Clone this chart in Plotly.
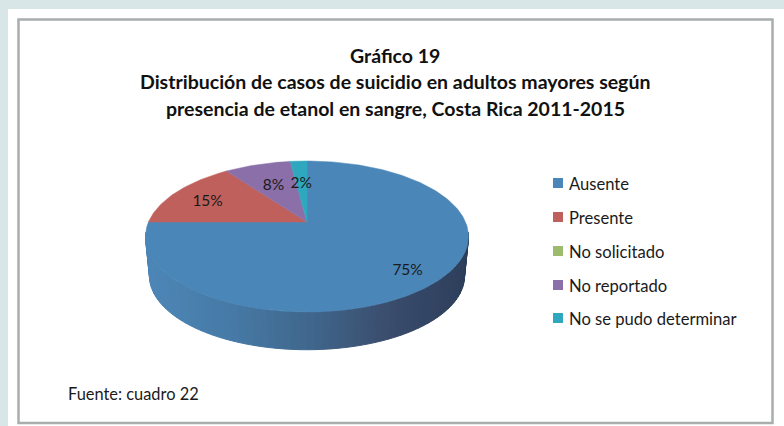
import math
import plotly.graph_objects as go

categories = ["Ausente", "Presente", "No solicitado", "No reportado", "No se pudo determinar"]
values = [75, 15, 0, 8, 2]
colors = ["#4a86b8", "#c0605c", "#9dbb6d", "#8b6fa8", "#2fa8bf"]
label_radius = [0.8, 0.75, 0.7, 0.64, 0.64]
title_lines = ["Gráfico 19",
               "Distribución de casos de suicidio en adultos mayores según",
               "presencia de etanol en sangre, Costa Rica 2011-2015"]
source_note = "Fuente: cuadro 22"

W, H = 784, 426
X0, Y0 = 307, 222      # pie centre in the picture
QX, QY, K = 158.5, 72.7, 0.192   # perspective of the disc
DEPTH, SHRINK = 40.0, 0.975      # extrusion of the rim
LABEL_DY = 3


def project(t, r=1.0, base=False):
    u, v = r * math.sin(t), r * math.cos(t)
    w = 1 / (1 + K * v)
    x, y = QX * u * w, QY * v * w
    if base:
        return X0 + x * SHRINK, Y0 - y * SHRINK + DEPTH
    return X0 + x, Y0 - y


fig = go.Figure()

# rim: dark gradient along the front edge (left to right)
stops = [(0.0, (76, 134, 183)), (0.25, (70, 122, 166)), (0.5, (64, 102, 140)),
         (0.75, (58, 76, 108)), (1.0, (44, 62, 90))]


def rim_colour(f):
    for (a, ca), (b, cb) in zip(stops, stops[1:]):
        if f <= b:
            s = (f - a) / (b - a)
            c = [round(p + (q - p) * s) for p, q in zip(ca, cb)]
            return "rgb(%d,%d,%d)" % tuple(c)
    return "rgb(%d,%d,%d)" % stops[-1][1]


N = 70
t_left, t_right = math.radians(262), math.radians(98)
for i in range(N):
    a = t_left + (t_right - t_left) * i / N
    b = t_left + (t_right - t_left) * (i + 1) / N
    p1, p2 = project(a), project(b)
    p3, p4 = project(b, base=True), project(a, base=True)
    col = rim_colour((p1[0] - 146) / 323)
    fig.add_trace(go.Scatter(
        x=[p1[0], p2[0], p3[0], p4[0], p1[0]], y=[p1[1], p2[1], p3[1], p4[1], p1[1]],
        mode="lines", fill="toself", fillcolor=col, line=dict(color=col, width=1),
        hoverinfo="skip", showlegend=False))

# top face: one wedge per category, clockwise from 12 o'clock
total = sum(values)
start = 0.0
label_x, label_y, label_text = [], [], []
for name, val, col, lr in zip(categories, values, colors, label_radius):
    sweep = 2 * math.pi * val / total
    if val > 0:
        n = max(2, int(val * 3))
        pts = [project(start + sweep * j / n) for j in range(n + 1)]
        xs = [X0] + [p[0] for p in pts] + [X0]
        ys = [Y0] + [p[1] for p in pts] + [Y0]
        fig.add_trace(go.Scatter(x=xs, y=ys, mode="lines", fill="toself", fillcolor=col,
                                 line=dict(color=col, width=0.5), name=name,
                                 hoverinfo="name", showlegend=False))
        lx, ly = project(start + sweep / 2, lr)
        label_x.append(lx)
        label_y.append(ly + LABEL_DY)
        label_text.append(f"{val}%")
    start += sweep

fig.add_trace(go.Scatter(x=label_x, y=label_y, text=label_text, mode="text",
                         textfont=dict(family="Lato", size=15.5, color="#1a1a1a"),
                         hoverinfo="skip", showlegend=False))

# key
key_y = [183, 217, 251, 285, 318]
fig.add_trace(go.Scatter(x=[558] * 5, y=key_y, mode="markers",
                         marker=dict(symbol="square", size=10, color=colors),
                         hoverinfo="skip", showlegend=False))
annotations = []
for name, y in zip(categories, key_y):
    annotations.append(dict(x=566.5, y=y + 1, text=name, xanchor="left", yanchor="middle", showarrow=False,
                            font=dict(family="Lato", size=16.6, color="#1a1a1a")))
for line, y in zip(title_lines, [55, 81, 108]):
    annotations.append(dict(x=395, y=y, text=f"<b>{line}</b>", xanchor="center", yanchor="middle", showarrow=False,
                            font=dict(family="Lato", size=19.5, color="#111111")))
annotations.append(dict(x=65.5, y=393, text=source_note, xanchor="left", yanchor="middle", showarrow=False,
                        font=dict(family="Lato", size=16.4, color="#1a1a1a")))

fig.update_layout(
    width=W, height=H, margin=dict(l=0, r=0, t=0, b=0), autosize=False,
    paper_bgcolor="#d9e6e8", plot_bgcolor="rgba(0,0,0,0)", showlegend=False,
    xaxis=dict(range=[0, W], visible=False, fixedrange=True),
    yaxis=dict(range=[H, 0], visible=False, fixedrange=True),
    annotations=annotations,
    shapes=[
        dict(type="rect", x0=8, y0=9, x1=W, y1=H, layer="below", fillcolor="white", line=dict(width=0)),
        dict(type="rect", x0=18.5, y0=19.5, x1=772.5, y1=423, layer="below", fillcolor="white",
             line=dict(color="#a9adad", width=2.5)),
    ],
)
fig.write_html("out.html", config={"displayModeBar": False},
               post_script="document.body.style.margin='0';document.body.style.overflow='hidden';")
